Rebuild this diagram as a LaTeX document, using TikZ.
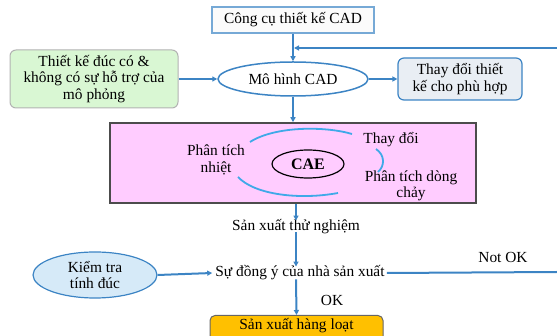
\documentclass[tikz,border=0pt]{standalone}
\usepackage{fontspec}
\setmainfont{Liberation Serif}
\usetikzlibrary{shapes.geometric,arrows.meta}
\definecolor{conn}{HTML}{3C84C4}
\definecolor{arcblue}{HTML}{3FA9E8}
\definecolor{greenfill}{HTML}{D9F7D3}
\definecolor{pinkfill}{HTML}{FFCCFF}
\definecolor{grayblue}{HTML}{E9EEF4}
\definecolor{lightblue}{HTML}{D6EAF8}
\definecolor{orangefill}{HTML}{FFC000}
\tikzset{
  x=1pt,y=-1pt,
  every node/.style={font=\fontsize{15.4}{16.5}\selectfont, inner sep=0pt, align=center},
  conn/.style={draw=conn, line width=2pt, -{Triangle[length=5pt,width=5pt]}},
  line/.style={draw=conn, line width=2pt},
  arc/.style={draw=arcblue, line width=1.8pt},
}
\begin{document}
\begin{tikzpicture}
\useasboundingbox (0,0) rectangle (557,336);
% top box
\node[draw=conn!70, line width=1.2pt, fill=gray!3, minimum width=162pt, minimum height=26pt] (cad) at (293,20) {Công cụ thiết kế CAD};
% ellipse Mo hinh CAD
\node[ellipse, draw=conn, line width=1.5pt, fill=white, minimum width=150pt, minimum height=34pt] (mh) at (293,79) {Mô hình CAD};
% green box
\node[draw=gray!60, line width=1pt, rounded corners=6pt, fill=greenfill, minimum width=168pt, minimum height=58pt] (green) at (94,79) {Thiết kế đúc có \&\\không có sự hỗ trợ của\\mô phỏng};
% change box
\node[draw=conn, line width=1.2pt, rounded corners=6pt, fill=grayblue, minimum width=124pt, minimum height=42pt] (chg) at (460,79) {Thay đổi thiết\\kế cho phù hợp};
% pink box
\node[draw=black!70, line width=1.5pt, fill=pinkfill, minimum width=366pt, minimum height=80pt] (cae) at (293,163) {};
\node[ellipse, draw=black, line width=1.2pt, minimum width=72pt, minimum height=28pt, font=\fontsize{16}{17}\selectfont\bfseries] (caee) at (308,164) {CAE};
\node (nhiet) at (216,160) {Phân tích\\nhiệt};
\node (thaydoi) at (391,140) {Thay đổi};
\node (dong) at (411,186) {Phân tích dòng\\chảy};
\draw[arc] (250,142) .. controls (275,126) and (325,126) .. (352,134);
\draw[arc] (376,149) .. controls (385,155) and (385,166) .. (378,172);
\draw[arc] (238,177) .. controls (255,195) and (300,200) .. (338,193);
% lower texts
\node (sx) at (296,227) {Sản xuất thử nghiệm};
\node (dy) at (300,273) {Sự đồng ý của nhà sản xuất};
\node[ellipse, draw=conn, line width=1.2pt, fill=lightblue, minimum width=124pt, minimum height=46pt] (kt) at (95,275) {Kiểm tra\\tính đúc};
\node[draw=black!60, line width=1pt, rounded corners=5pt, fill=orangefill, minimum width=173pt, minimum height=30pt, anchor=north] (hl) at (296.5,315) {};
\node at (296.5,326) {Sản xuất hàng loạt};
\node (notok) at (503,257) {Not OK};
\node (ok) at (332,300) {OK};
% connectors
\coordinate (fbR) at (557,48);
\coordinate (fbL) at (294,48);
\coordinate (noR) at (557,272);
\draw[conn] (cad.south) -- (mh.north);
\draw[conn] (fbR) -- (fbL);
\draw[conn] (green.east) -- (mh.west);
\draw[conn] (mh.east) -- (chg.west);
\draw[conn] (mh.south) -- (cae.north -| mh.south);
\draw[conn] (cae.south -| sx.north) -- ([yshift=-1pt]sx.north);
\draw[conn] ([yshift=2pt]sx.south) -- ([yshift=-1pt]sx.south |- dy.north);
\draw[conn] (kt.east) -- ([xshift=-3pt]dy.west);
\draw[line] ([xshift=2pt]dy.east) -- (noR);
\draw[conn] ([yshift=1pt]dy.south -| sx.south) -- (hl.north);
\end{tikzpicture}
\end{document}
